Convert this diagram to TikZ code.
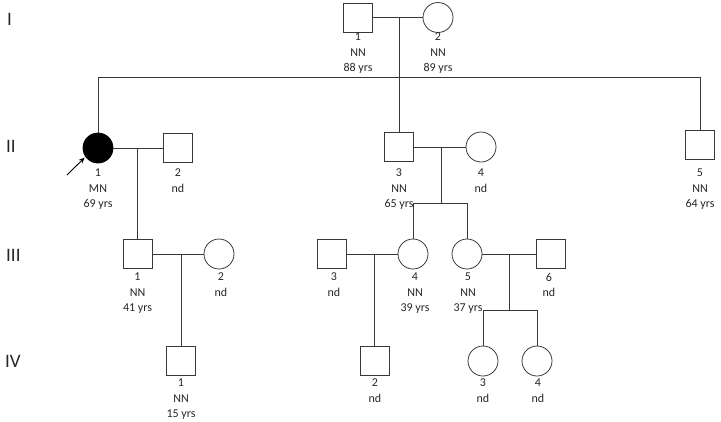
\documentclass[tikz,border=0pt]{standalone}
\usepackage{fontspec}
\setmainfont{Carlito}
\usetikzlibrary{arrows.meta}
\begin{document}
\begin{tikzpicture}[x=1pt,y=-1pt,
  ln/.style={draw=black!78, line width=0.8pt},
  male/.style={rectangle, draw=black!78, line width=0.8pt, minimum size=29pt, inner sep=0pt},
  female/.style={circle, draw=black!78, line width=0.8pt, minimum size=30pt, inner sep=0pt},
  aff/.style={fill=black, draw=black},
  lbl/.style={font=\fontsize{12}{15.5}\selectfont, align=center, anchor=north, inner sep=0pt, text=black!85},
  gen/.style={font=\fontsize{19}{19}\selectfont, anchor=west, inner sep=0pt, text=black!85}]
\useasboundingbox (0,0) rectangle (721,421);

% generation labels
\node[gen] (gI) at (7,19) {I};
\node[gen] (gII) at (6,146) {II};
\node[gen] (gIII) at (6,255) {III};
\node[gen] (gIV) at (5,361) {IV};

% generation I
\node[male] (I1) at (358,17.5) {};
\node[female] (I2) at (438,17.5) {};
% generation II
\node[female,aff] (II1) at (98,148) {};
\node[male] (II2) at (178,148) {};
\node[male] (II3) at (399,147) {};
\node[female] (II4) at (481,147) {};
\node[male] (II5) at (700,145) {};
% generation III
\node[male] (III1) at (137.5,254) {};
\node[female] (III2) at (219,254) {};
\node[male] (III3) at (332,254) {};
\node[female] (III4) at (413,254) {};
\node[female] (III5) at (467,254) {};
\node[male] (III6) at (550.5,254) {};
% generation IV
\node[male] (IV1) at (181,361) {};
\node[male] (IV2) at (374.5,361) {};
\node[female] (IV3) at (483,361) {};
\node[female] (IV4) at (537,361) {};

% labels
\node[lbl] (lI1) at (358,33) {1\\NN\\88 yrs};
\node[lbl] (lI2) at (438,33) {2\\NN\\89 yrs};
\node[lbl] (lII1) at (98,169) {1\\MN\\69 yrs};
\node[lbl] (lII2) at (178,169) {2\\nd};
\node[lbl] (lII3) at (399,169) {3\\NN\\65 yrs};
\node[lbl] (lII4) at (481,169) {4\\nd};
\node[lbl] (lII5) at (700,169) {5\\NN\\64 yrs};
\node[lbl] (lIII1) at (137.5,273) {1\\NN\\41 yrs};
\node[lbl] (lIII2) at (221,273) {2\\nd};
\node[lbl] (lIII3) at (334,273) {3\\nd};
\node[lbl] (lIII4) at (415,273) {4\\NN\\39 yrs};
\node[lbl] (lIII5) at (468,273) {5\\NN\\37 yrs};
\node[lbl] (lIII6) at (549,273) {6\\nd};
\node[lbl] (lIV1) at (181,379) {1\\NN\\15 yrs};
\node[lbl] (lIV2) at (375,379) {2\\nd};
\node[lbl] (lIV3) at (483,379) {3\\nd};
\node[lbl] (lIV4) at (538,379) {4\\nd};

% junction coordinates
\coordinate (sibI) at (399,77);
\coordinate (mII) at (441,147);
\coordinate (sibII) at (441,203);
\coordinate (sibIII) at (509,310);
\coordinate (arrowtail) at (67,175);

% generation I connectors
\draw[ln] (I1) -- (I2);
\draw[ln] (II3 |- I1.east) -- (II3.north);
\draw[ln] (II1.north) -- (II1.north |- sibI) -- (II5.north |- sibI) -- (II5.north);

% generation II connectors
\draw[ln] (II1) -- (II2);
\draw[ln] (III1 |- II1.east) -- (III1.north);
\draw[ln] (II3) -- (II4);
\draw[ln] (mII) -- (sibII);
\draw[ln] (III4.north) -- (III4.north |- sibII) -- (III5.north |- sibII) -- (III5.north);

% generation III connectors
\draw[ln] (III1) -- (III2);
\draw[ln] (IV1 |- III1.east) -- (IV1.north);
\draw[ln] (III3) -- (III4);
\draw[ln] (IV2 |- III3.east) -- (IV2.north);
\draw[ln] (III5) -- (III6);
\draw[ln] (sibIII |- III5.east) -- (sibIII);
\draw[ln] (IV3.north) -- (IV3.north |- sibIII) -- (IV4.north |- sibIII) -- (IV4.north);

% proband arrow
\draw[line width=0.9pt, -{Stealth[length=6pt,width=5pt]}, shorten >=1pt] (arrowtail) -- (II1.215);
\end{tikzpicture}
\end{document}
